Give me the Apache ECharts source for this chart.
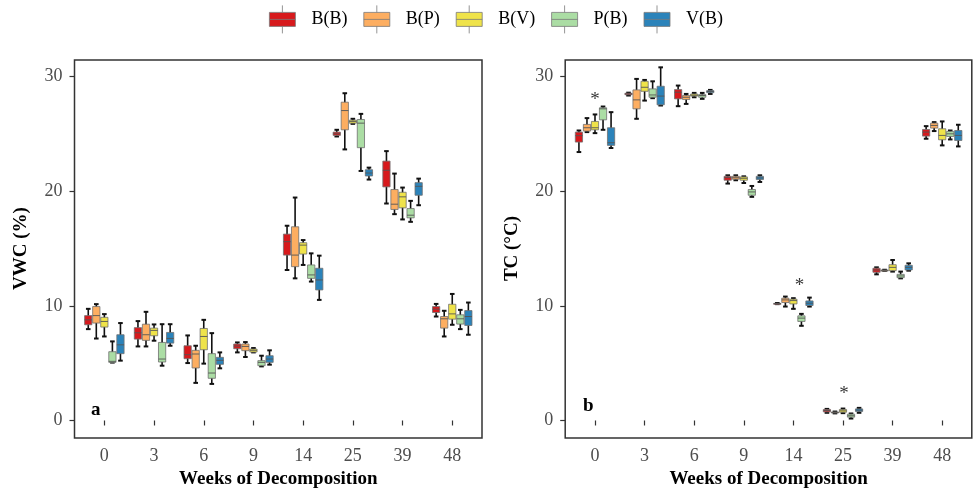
<!DOCTYPE html>
<html>
<head>
<meta charset="utf-8">
<script src="https://cdn.jsdelivr.net/npm/echarts@6/dist/echarts.min.js"></script>
<style>
  html, body { margin: 0; padding: 0; background: #fff; }
  #chart { width: 974px; height: 494px; }
</style>
</head>
<body>
<div id="chart"></div>
<script>
// weeks on the x axis
var weeks = ['0', '3', '6', '9', '14', '25', '39', '48'];
var seriesNames = ['B(B)', 'B(P)', 'B(V)', 'P(B)', 'V(B)'];
var colors = ['#D7191C', '#FDAE61', '#EFE34A', '#ABDDA4', '#2B83BA'];
var yTicks = [0, 10, 20, 30];

// each row: [low, q1, median, q3, high] per week
var vwcBB = [[7.97, 8.35, 8.78, 9.15, 9.74], [6.46, 7.1, 7.65, 8.1, 8.67], [5.01, 5.39, 5.74, 6.52, 7.42], [5.94, 6.26, 6.49, 6.67, 6.81],
             [13.13, 14.43, 15.6, 16.26, 16.99], [24.78, 24.87, 25.01, 25.16, 25.36], [18.93, 20.38, 21.83, 22.63, 23.5], [9.07, 9.42, 9.71, 9.94, 10.17]];
var vwcBP = [[7.15, 8.5, 9.15, 9.94, 10.15], [6.46, 6.99, 7.48, 8.4, 9.48], [3.28, 4.58, 5.8, 6.12, 6.52], [5.54, 6.09, 6.46, 6.67, 6.84],
             [12.4, 13.42, 14.43, 16.9, 19.45], [23.65, 25.36, 27.04, 27.77, 28.55], [18.0, 18.41, 18.87, 20.15, 21.54], [7.33, 8.06, 8.87, 9.07, 9.57]];
var vwcBV = [[7.33, 8.15, 8.64, 9.0, 9.28], [6.96, 7.39, 7.86, 8.06, 8.38], [4.96, 6.17, 7.33, 8.03, 8.78], [5.94, 5.97, 6.12, 6.23, 6.32],
             [13.57, 14.52, 15.3, 15.51, 15.74], [25.88, 25.94, 26.09, 26.2, 26.32], [17.54, 18.55, 19.51, 19.91, 20.32], [8.35, 8.84, 9.3, 10.14, 11.04]];
var vwcPB = [[5.05, 5.07, 5.16, 6.0, 6.9], [4.78, 5.1, 5.36, 6.81, 8.4], [3.19, 3.68, 4.14, 5.83, 7.62], [4.72, 4.78, 5.07, 5.22, 5.65],
             [12.12, 12.4, 12.7, 13.57, 14.58], [21.77, 23.8, 25.94, 26.26, 26.75], [17.33, 17.68, 17.91, 18.49, 19.16], [7.97, 8.41, 8.87, 9.22, 9.65]];
var vwcVB = [[5.22, 5.83, 6.6, 7.48, 8.5], [6.52, 6.75, 7.16, 7.68, 8.4], [4.55, 4.9, 5.25, 5.51, 5.94], [4.87, 5.07, 5.36, 5.65, 6.12],
             [10.52, 11.39, 12.26, 13.28, 14.38], [21.02, 21.33, 21.59, 21.88, 22.06], [18.78, 19.65, 20.43, 20.75, 21.1], [7.48, 8.29, 9.07, 9.59, 10.29]];

var tcBB = [[23.42, 24.29, 24.85, 25.16, 25.3], [28.35, 28.42, 28.49, 28.55, 28.6], [27.42, 28.06, 28.64, 28.87, 29.22], [20.67, 20.96, 21.19, 21.3, 21.39],
            [10.15, 10.18, 10.2, 10.22, 10.25], [0.67, 0.75, 0.87, 0.96, 1.01], [12.75, 12.93, 13.13, 13.28, 13.36], [24.58, 24.81, 25.16, 25.39, 25.68]];
var tcBP = [[25.16, 25.25, 25.54, 25.83, 26.38], [26.32, 27.19, 27.97, 28.84, 29.8], [27.62, 28.0, 28.2, 28.35, 28.49], [20.96, 21.05, 21.18, 21.3, 21.39],
            [9.94, 10.29, 10.52, 10.67, 10.81], [0.62, 0.66, 0.7, 0.74, 0.78], [13.05, 13.08, 13.1, 13.12, 13.15], [25.25, 25.51, 25.74, 25.94, 26.03]];
var tcBV = [[25.07, 25.36, 25.54, 26.09, 26.7], [27.91, 28.72, 29.07, 29.59, 29.71], [28.2, 28.3, 28.38, 28.48, 28.58], [20.72, 20.96, 21.13, 21.25, 21.3],
            [9.74, 10.17, 10.46, 10.58, 10.67], [0.64, 0.72, 0.84, 0.96, 1.04], [12.99, 13.07, 13.36, 13.59, 14.0], [24.0, 24.49, 24.87, 25.45, 26.09]];
var tcPB = [[25.36, 26.23, 27.19, 27.28, 27.39], [28.12, 28.2, 28.4, 28.93, 29.59], [28.06, 28.2, 28.35, 28.43, 28.58], [19.51, 19.65, 19.94, 20.15, 20.46],
            [8.26, 8.64, 8.93, 9.13, 9.3], [0.17, 0.29, 0.41, 0.55, 0.61], [12.4, 12.46, 12.61, 12.75, 12.99], [24.52, 24.78, 25.01, 25.22, 25.3]];
var tcVB = [[23.77, 24.0, 24.23, 25.54, 26.9], [27.48, 27.54, 28.3, 29.16, 30.81], [28.49, 28.6, 28.7, 28.78, 28.84], [20.81, 21.02, 21.16, 21.3, 21.39],
            [9.94, 10.03, 10.23, 10.43, 10.72], [0.67, 0.78, 0.9, 1.01, 1.1], [13.07, 13.13, 13.36, 13.54, 13.71], [23.91, 24.43, 24.87, 25.3, 25.8]];

// significance marks on panel b
var starWeekIdx = [0, 4, 5];
var starValues = [28.35, 12.1, 2.78];

var vwcSets = [vwcBB, vwcBP, vwcBV, vwcPB, vwcVB];
var tcSets = [tcBB, tcBP, tcBV, tcPB, tcVB];

var FONT = 'Liberation Serif';

function toData(rows) {
    return rows.map(function (r, i) { return [i].concat(r); });
}

function renderBox(idx, color) {
    return function (params, api) {
        var cat = api.value(0);
        var band = api.size([1, 0])[0];
        var x = api.coord([cat, 0])[0] + (idx - 2) * band * 0.162;
        var yLow = api.coord([cat, api.value(1)])[1];
        var yQ1 = api.coord([cat, api.value(2)])[1];
        var yMed = api.coord([cat, api.value(3)])[1];
        var yQ3 = api.coord([cat, api.value(4)])[1];
        var yHigh = api.coord([cat, api.value(5)])[1];
        var hw = band * 0.073;
        var cw = 2.3;
        return {
            type: 'group',
            children: [
                { type: 'line', shape: { x1: x, y1: yHigh, x2: x, y2: yLow }, style: { stroke: '#111', lineWidth: 1.6 } },
                { type: 'line', shape: { x1: x - cw, y1: yHigh, x2: x + cw, y2: yHigh }, style: { stroke: '#111', lineWidth: 2 } },
                { type: 'line', shape: { x1: x - cw, y1: yLow, x2: x + cw, y2: yLow }, style: { stroke: '#111', lineWidth: 2 } },
                { type: 'rect', shape: { x: x - hw, y: yQ3, width: hw * 2, height: Math.max(yQ1 - yQ3, 1) },
                  style: { fill: color, stroke: '#707070', lineWidth: 0.8 } },
                { type: 'line', shape: { x1: x - hw, y1: yMed, x2: x + hw, y2: yMed }, style: { stroke: '#555', lineWidth: 0.9 } }
            ]
        };
    };
}

var series = [];
[vwcSets, tcSets].forEach(function (sets, g) {
    sets.forEach(function (rows, i) {
        series.push({
            name: seriesNames[i],
            type: 'custom',
            xAxisIndex: g,
            yAxisIndex: g,
            itemStyle: { color: colors[i] },
            encode: { x: 0, y: [1, 2, 3, 4, 5] },
            renderItem: renderBox(i, colors[i]),
            data: toData(rows),
            silent: true
        });
    });
});

var starOffsets = [[0, 4], [6, 4], [1, 5]];
series.push({
    type: 'scatter',
    xAxisIndex: 1,
    yAxisIndex: 1,
    symbolSize: 0,
    silent: true,
    data: starWeekIdx.map(function (w, i) {
        return {
            value: [w, starValues[i]],
            label: { offset: starOffsets[i] }
        };
    }),
    label: {
        show: true, formatter: '*', position: 'inside',
        fontFamily: FONT, fontSize: 19, color: '#000'
    }
});

function yAxisOpt(gi, name) {
    return {
        type: 'value', gridIndex: gi, min: -1.45, max: 31.45, offset: 5,
        name: name, nameLocation: 'middle', nameGap: 44,
        nameTextStyle: { fontFamily: FONT, fontSize: 19, fontWeight: 'bold', color: '#000' },
        axisLine: { show: false },
        axisTick: { show: true, length: 5, customValues: yTicks, lineStyle: { color: '#333', width: 1.2 } },
        axisLabel: { customValues: yTicks, margin: 12, fontFamily: FONT, fontSize: 18, color: '#4D4D4D' },
        splitLine: { show: false }
    };
}

function xAxisOpt(gi) {
    return {
        type: 'category', gridIndex: gi, data: weeks,
        name: 'Weeks of Decomposition', nameLocation: 'middle', nameGap: 32,
        nameTextStyle: { fontFamily: FONT, fontSize: 19, fontWeight: 'bold', color: '#000' },
        axisLine: { show: false },
        axisTick: { show: true, alignWithLabel: true, length: 5, lineStyle: { color: '#333', width: 1.2 } },
        axisLabel: { margin: 10, fontFamily: FONT, fontSize: 18, color: '#4D4D4D' },
        splitLine: { show: false }
    };
}

var chart = echarts.init(document.getElementById('chart'));
chart.setOption({
    backgroundColor: '#fff',
    animation: false,
    textStyle: { fontFamily: FONT },
    legend: {
        data: seriesNames,
        left: 269,
        top: 5,
        padding: 0,
        itemWidth: 26,
        itemHeight: 28,
        itemGap: 16,
        icon: 'path://M0,7H26V21H0Z M0,14H26 M13,0V7 M13,21V28',
        itemStyle: { borderColor: '#7a7a7a', borderWidth: 0.8 },
        textStyle: { fontFamily: FONT, fontSize: 18, color: '#000', padding: [0, 0, 0, 11] }
    },
    grid: [
        { left: 79.5, top: 60, width: 397.6, height: 378 },
        { left: 570.2, top: 60, width: 396.8, height: 378 }
    ],
    xAxis: [xAxisOpt(0), xAxisOpt(1)],
    yAxis: [yAxisOpt(0, 'VWC (%)'), yAxisOpt(1, 'TC (\u00B0C)')],
    graphic: [
        { type: 'rect', shape: { x: 74.5, y: 60, width: 407.5, height: 378 }, style: { fill: 'none', stroke: '#333', lineWidth: 1.5 }, z: 10 },
        { type: 'rect', shape: { x: 565.2, y: 60, width: 406.6, height: 378 }, style: { fill: 'none', stroke: '#333', lineWidth: 1.5 }, z: 10 },
        { type: 'text', left: 91, top: 401, style: { text: 'a', font: 'bold 19px "Liberation Serif"', fill: '#000' } },
        { type: 'text', left: 583, top: 397, style: { text: 'b', font: 'bold 19px "Liberation Serif"', fill: '#000' } }
    ],
    series: series
});
</script>
</body>
</html>
